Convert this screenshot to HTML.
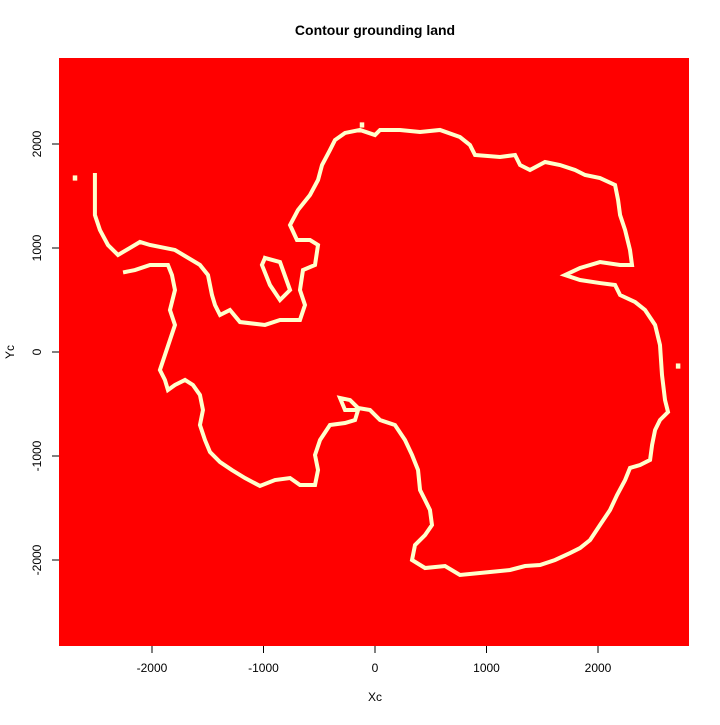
<!DOCTYPE html>
<html><head><meta charset="utf-8"><style>
body{margin:0;background:#fff}
svg text{font-family:"Liberation Sans",sans-serif;font-size:12px;fill:#000}
</style></head><body>
<svg width="720" height="720">
<text x="375" y="35" text-anchor="middle" font-weight="bold" style="font-size:14px">Contour grounding land</text>
<rect x="59" y="58" width="630" height="588" fill="#ff0000"/>
<g id="marks"></g>
<g id="axes"></g>
<text x="375" y="701" text-anchor="middle">Xc</text>
<text transform="translate(14,352) rotate(-90)" text-anchor="middle">Yc</text>
</svg>
<script>
const coastX=[-2512,-2512,-2467,-2395,-2305,-2108,-2018,-1794,-1704,-1570,-1498,-1462,-1435,-1390,-1301,-1211,-987,-852,-673,-628,-673,-646,-538,-511,-583,-700,-762,-691,-583,-511,-475,-404,-359,-269,-135,0,45,224,404,583,762,852,897,1121,1256,1301,1390,1525,1659,1794,1884,2018,2153,2180,2198,2243,2287,2305,2198,2018,1839,1704,1839,2018,2153,2198,2332,2422,2512,2556,2574,2601,2628,2556,2512,2485,2467,2377,2287,2243,2171,2108,2018,1929,1839,1749,1615,1480,1346,1211,1032,762,628,449,332,359,449,511,493,449,404,386,332,269,179,45,-45,-152,-224,-314,-269,-152,-179,-269,-404,-493,-538,-511,-538,-673,-762,-897,-1032,-1166,-1283,-1390,-1480,-1525,-1570,-1543,-1570,-1633,-1704,-1794,-1857,-1884,-1929,-1884,-1839,-1794,-1839,-1794,-1821,-1857,-2018,-2153,-2242];
const coastY=[1702,1317,1173,1029,933,1058,1029,981,923,837,740,548,452,356,404,288,260,308,308,452,596,788,837,1029,1077,1077,1221,1365,1510,1654,1798,1942,2038,2106,2135,2086,2135,2135,2115,2135,2067,1990,1894,1875,1894,1798,1750,1827,1798,1750,1702,1673,1606,1462,1317,1173,981,837,837,865,808,740,692,663,644,548,481,404,260,67,-221,-462,-577,-654,-750,-894,-1038,-1087,-1115,-1231,-1375,-1519,-1663,-1808,-1885,-1933,-2000,-2048,-2058,-2096,-2115,-2144,-2058,-2077,-2000,-1856,-1760,-1663,-1519,-1423,-1327,-1135,-990,-846,-702,-654,-558,-538,-462,-442,-558,-558,-654,-683,-702,-846,-990,-1135,-1279,-1279,-1212,-1231,-1288,-1212,-1135,-1058,-962,-846,-702,-558,-413,-317,-269,-317,-365,-269,-173,-29,115,260,404,596,740,837,837,788,769];
const islandX=[-987,-852,-762,-852,-942,-1014,-987];
const islandY=[904,865,596,500,644,837,904];
const dotX=[2718,-117,-2691];
const dotY=[-135,2183,1673];
const xTicks=[-2000,-1000,0,1000,2000];
const yTicks=[-2000,-1000,0,1000,2000];
const sx=v=>375+v*0.1115, sy=v=>352-v*0.104;
const NS='http://www.w3.org/2000/svg';
const m=document.getElementById('marks'), ax=document.getElementById('axes');
function line(xs,ys,name){
  const p=document.createElementNS(NS,'polyline');
  p.setAttribute('points',xs.map((x,i)=>sx(x)+','+sy(ys[i])).join(' '));
  p.setAttribute('fill','none');p.setAttribute('stroke','#ffffcc');p.setAttribute('stroke-width','4');
  p.setAttribute('stroke-linejoin','miter');p.setAttribute('stroke-linecap','square');
  
  
  m.appendChild(p);
}
line(coastX,coastY,'grounding-line');
line(islandX,islandY,'island-contour');
dotX.forEach((x,i)=>{const r=document.createElementNS(NS,'rect');
  r.setAttribute('x',sx(x)-2.2);r.setAttribute('y',sy(dotY[i])-2.6);r.setAttribute('width',4.5);r.setAttribute('height',5.2);r.setAttribute('fill','#ffffcc');
  
  
  m.appendChild(r);});
xTicks.forEach(t=>{const x=sx(t);
  const l=document.createElementNS(NS,'line');l.setAttribute('x1',x);l.setAttribute('x2',x);l.setAttribute('y1',646);l.setAttribute('y2',653);l.setAttribute('stroke','#000');
  
  
  ax.appendChild(l);
  const tx=document.createElementNS(NS,'text');tx.setAttribute('x',x);tx.setAttribute('y',672);tx.setAttribute('text-anchor','middle');tx.textContent=t;
  
  
  ax.appendChild(tx);});
yTicks.forEach(t=>{const y=sy(t);
  const l=document.createElementNS(NS,'line');l.setAttribute('x1',52);l.setAttribute('x2',59);l.setAttribute('y1',y);l.setAttribute('y2',y);l.setAttribute('stroke','#000');
  
  
  ax.appendChild(l);
  const tx=document.createElementNS(NS,'text');tx.setAttribute('transform','translate(41,'+y+') rotate(-90)');tx.setAttribute('text-anchor','middle');tx.textContent=t;
  
  
  ax.appendChild(tx);});
</script>
</body></html>
